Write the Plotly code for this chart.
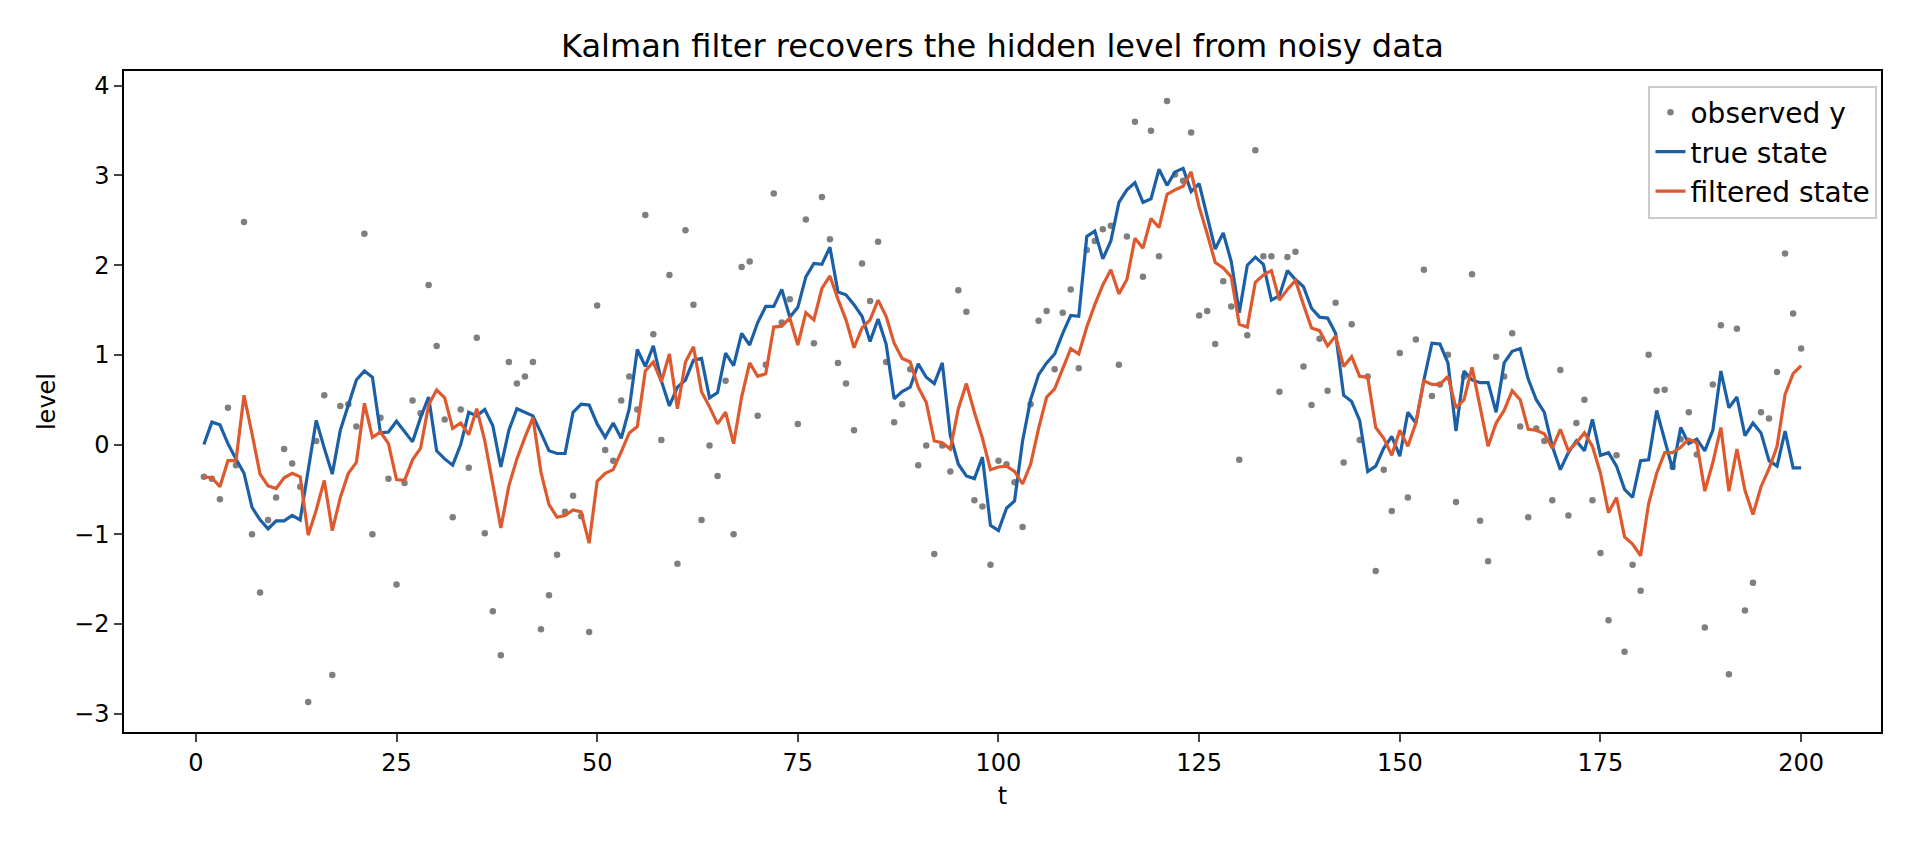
import plotly.graph_objects as go

# time index 1..200
t = list(range(1, 201))

observed_y = [
    -0.36, -0.38, -0.61, 0.41, -0.23, 2.48, -1.00, -1.65, -0.84, -0.59,
    -0.05, -0.21, -0.47, -2.87, 0.04, 0.55, -2.57, 0.43, 0.45, 0.20,
    2.35, -1.00, 0.30, -0.38, -1.56, -0.43, 0.49, 0.35, 1.78, 1.10,
    0.28, -0.81, 0.39, -0.26, 1.19, -0.99, -1.86, -2.35, 0.92, 0.68,
    0.76, 0.92, -2.06, -1.68, -1.23, -0.75, -0.57, -0.80, -2.09, 1.55,
    -0.06, -0.18, 0.49, 0.76, 0.39, 2.56, 1.23, 0.05, 1.89, -1.33,
    2.39, 1.56, -0.84, -0.01, -0.35, 0.71, -1.00, 1.98, 2.04, 0.32,
    0.89, 2.80, 1.36, 1.62, 0.23, 2.51, 1.13, 2.76, 2.29, 0.91,
    0.68, 0.16, 2.02, 1.60, 2.26, 0.92, 0.25, 0.45, 0.84, -0.23,
    -0.01, -1.22, -0.01, -0.30, 1.72, 1.48, -0.62, -0.69, -1.34, -0.18,
    -0.22, -0.42, -0.92, 0.45, 1.38, 1.49, 0.84, 1.47, 1.73, 0.85,
    2.17, 2.27, 2.40, 2.44, 0.89, 2.32, 3.60, 1.87, 3.50, 2.10,
    3.83, 3.01, 2.94, 3.48, 1.44, 1.49, 1.12, 1.82, 1.54, -0.17,
    1.22, 3.28, 2.10, 2.10, 0.59, 2.09, 2.15, 0.87, 0.44, 1.18,
    0.60, 1.58, -0.20, 1.34, 0.05, 0.76, -1.41, -0.28, -0.74, 1.02,
    -0.59, 1.17, 1.95, 0.54, 0.67, 1.00, -0.64, 0.76, 1.90, -0.85,
    -1.30, 0.98, 0.76, 1.24, 0.20, -0.81, 0.18, 0.04, -0.62, 0.83,
    -0.79, 0.24, 0.50, -0.62, -1.21, -1.96, -0.12, -2.31, -1.34, -1.63,
    1.00, 0.60, 0.61, -0.25, 0.06, 0.36, -0.11, -2.04, 0.67, 1.33,
    -2.56, 1.29, -1.85, -1.54, 0.36, 0.29, 0.81, 2.13, 1.46, 1.07,
]

true_state = [
    0.00, 0.25, 0.22, 0.01, -0.16, -0.32, -0.70, -0.84, -0.94, -0.85,
    -0.85, -0.79, -0.84, -0.30, 0.27, -0.04, -0.33, 0.16, 0.44, 0.72,
    0.82, 0.75, 0.13, 0.14, 0.26, 0.15, 0.03, 0.30, 0.53, -0.07,
    -0.16, -0.23, 0.00, 0.36, 0.32, 0.39, 0.21, -0.25, 0.16, 0.40,
    0.36, 0.32, 0.13, -0.07, -0.10, -0.10, 0.36, 0.45, 0.44, 0.23,
    0.08, 0.24, 0.07, 0.40, 1.06, 0.87, 1.10, 0.71, 0.43, 0.64,
    0.72, 0.94, 0.96, 0.52, 0.58, 1.02, 0.88, 1.24, 1.11, 1.36,
    1.54, 1.54, 1.73, 1.42, 1.53, 1.87, 2.02, 2.01, 2.20, 1.70,
    1.67, 1.56, 1.43, 1.15, 1.40, 1.12, 0.51, 0.59, 0.64, 0.90,
    0.75, 0.68, 0.91, 0.10, -0.22, -0.35, -0.38, -0.14, -0.90, -0.96,
    -0.71, -0.63, 0.04, 0.50, 0.78, 0.91, 1.01, 1.24, 1.44, 1.43,
    2.32, 2.38, 2.07, 2.27, 2.70, 2.84, 2.92, 2.70, 2.74, 3.07,
    2.89, 3.04, 3.08, 2.82, 2.91, 2.54, 2.18, 2.36, 2.04, 1.47,
    2.00, 2.09, 2.01, 1.61, 1.66, 1.94, 1.84, 1.76, 1.52, 1.42,
    1.41, 1.24, 0.55, 0.48, 0.27, -0.30, -0.24, -0.04, 0.09, -0.13,
    0.36, 0.24, 0.72, 1.13, 1.12, 0.91, 0.15, 0.82, 0.72, 0.69,
    0.69, 0.36, 0.91, 1.04, 1.07, 0.73, 0.50, 0.36, -0.02, -0.28,
    -0.09, 0.04, -0.07, 0.28, -0.12, -0.09, -0.24, -0.50, -0.59, -0.18,
    -0.17, 0.38, 0.06, -0.28, 0.19, 0.01, 0.06, -0.07, 0.16, 0.82,
    0.41, 0.53, 0.10, 0.24, 0.13, -0.18, -0.24, 0.15, -0.26, -0.26,
]

filtered_state = [
    -0.36, -0.37, -0.47, -0.18, -0.18, 0.55, 0.12, -0.33, -0.46, -0.49,
    -0.37, -0.32, -0.36, -1.01, -0.73, -0.40, -0.96, -0.59, -0.32, -0.20,
    0.46, 0.08, 0.14, 0.01, -0.39, -0.40, -0.17, -0.04, 0.44, 0.61,
    0.52, 0.18, 0.24, 0.11, 0.40, 0.04, -0.44, -0.93, -0.46, -0.16,
    0.08, 0.30, -0.31, -0.67, -0.81, -0.79, -0.73, -0.75, -1.10, -0.41,
    -0.32, -0.28, -0.08, 0.13, 0.20, 0.82, 0.92, 0.70, 1.01, 0.40,
    0.92, 1.09, 0.59, 0.42, 0.23, 0.36, 0.01, 0.53, 0.91, 0.76,
    0.79, 1.31, 1.32, 1.41, 1.11, 1.47, 1.39, 1.74, 1.88, 1.62,
    1.39, 1.08, 1.30, 1.39, 1.61, 1.43, 1.13, 0.96, 0.92, 0.64,
    0.47, 0.04, 0.02, -0.05, 0.40, 0.68, 0.36, 0.07, -0.28, -0.25,
    -0.24, -0.30, -0.44, -0.22, 0.18, 0.53, 0.62, 0.84, 1.07, 1.01,
    1.31, 1.56, 1.78, 1.95, 1.68, 1.84, 2.30, 2.19, 2.52, 2.42,
    2.79, 2.84, 2.88, 3.04, 2.65, 2.35, 2.03, 1.97, 1.87, 1.34,
    1.31, 1.81, 1.89, 1.94, 1.61, 1.73, 1.83, 1.56, 1.30, 1.27,
    1.10, 1.21, 0.87, 0.98, 0.76, 0.75, 0.19, 0.07, -0.12, 0.16,
    -0.02, 0.24, 0.71, 0.67, 0.67, 0.76, 0.41, 0.50, 0.86, 0.42,
    -0.02, 0.24, 0.38, 0.60, 0.50, 0.17, 0.16, 0.12, -0.04, 0.17,
    -0.07, 0.02, 0.13, -0.02, -0.32, -0.76, -0.59, -1.03, -1.11, -1.24,
    -0.66, -0.32, -0.09, -0.09, -0.03, 0.06, 0.02, -0.52, -0.20, 0.19,
    -0.52, -0.05, -0.51, -0.78, -0.47, -0.27, -0.02, 0.56, 0.79, 0.88,
]

x_ticks = [0, 25, 50, 75, 100, 125, 150, 175, 200]
y_ticks = [-3, -2, -1, 0, 1, 2, 3, 4]

fig = go.Figure()
fig.add_trace(go.Scatter(x=t, y=observed_y, mode="markers", name="observed y",
                         marker=dict(color="#7f7f7f", size=6.5)))
fig.add_trace(go.Scatter(x=t, y=true_state, mode="lines", name="true state",
                         line=dict(color="#1b5fa7", width=3.2)))
fig.add_trace(go.Scatter(x=t, y=filtered_state, mode="lines", name="filtered state",
                         line=dict(color="#de5a2e", width=3.2)))

# page body has an 8px margin, so the figure is 8px smaller and margins shifted
fig.update_layout(
    width=1912, height=836,
    margin=dict(l=116, r=39, t=63, b=112),
    paper_bgcolor="white", plot_bgcolor="white",
    font=dict(family="DejaVu Sans", size=24, color="black"),
    title=dict(text="Kalman filter recovers the hidden level from noisy data",
               x=0.5, xref="paper", xanchor="center",
               y=1 - 38 / 836, yref="container", yanchor="middle",
               font=dict(size=32)),
    legend=dict(x=0.998, xanchor="right", y=0.978, yanchor="top",
                bgcolor="rgba(255,255,255,0.8)", bordercolor="#cccccc", borderwidth=2,
                font=dict(size=28)),
)
fig.update_xaxes(range=[-8.95, 209.95], tickvals=x_ticks, ticks="outside", ticklen=8,
                 tickwidth=1.5, showline=True, mirror=True, linecolor="black", linewidth=1.5,
                 showgrid=False, zeroline=False,
                 title=dict(text="t", standoff=12, font=dict(size=24)))
fig.update_yaxes(range=[-3.205, 4.165], tickvals=y_ticks, ticks="outside", ticklen=8,
                 tickwidth=1.5, showline=True, mirror=True, linecolor="black", linewidth=1.5,
                 showgrid=False, zeroline=False, tickformat="d",
                 title=dict(text="level", standoff=12, font=dict(size=24)))

fig.write_html("out.html")
